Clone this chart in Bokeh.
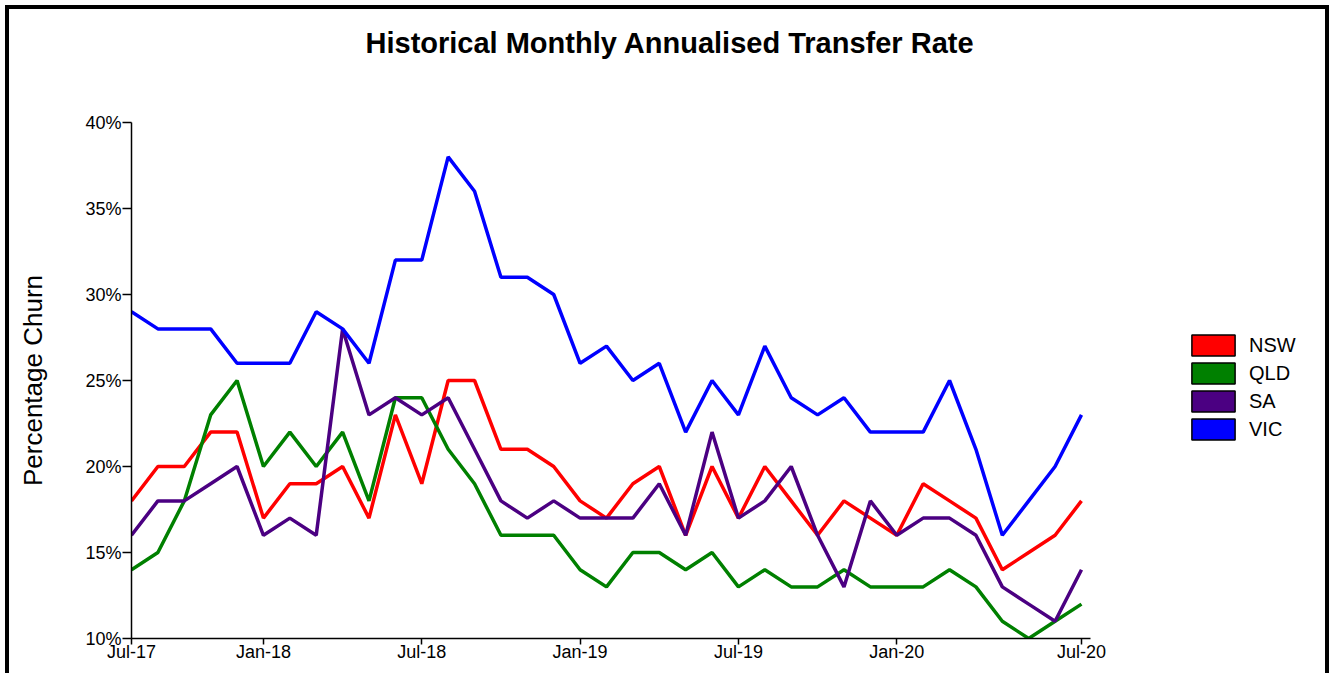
import numpy as np
from bokeh.plotting import figure
from bokeh.models import (Range1d, FixedTicker, PrintfTickFormatter, Legend, LegendItem, Title)
from bokeh.embed import file_html
from bokeh.resources import INLINE

months = ["Jul-17","Aug-17","Sep-17","Oct-17","Nov-17","Dec-17","Jan-18","Feb-18","Mar-18","Apr-18",
          "May-18","Jun-18","Jul-18","Aug-18","Sep-18","Oct-18","Nov-18","Dec-18","Jan-19","Feb-19",
          "Mar-19","Apr-19","May-19","Jun-19","Jul-19","Aug-19","Sep-19","Oct-19","Nov-19","Dec-19",
          "Jan-20","Feb-20","Mar-20","Apr-20","May-20","Jun-20","Jul-20"]
x_index = list(range(len(months)))

nsw = [18,20,20,22,22,17,19,19,20,17,23,19,25,25,21,21,20,18,17,19,20,16,20,17,20,18,16,18,17,16,19,18,17,14,15,16,18]
qld = [14,15,18,23,25,20,22,20,22,18,24,24,21,19,16,16,16,14,13,15,15,14,15,13,14,13,13,14,13,13,13,14,13,11,10,11,12]
sa  = [16,18,18,19,20,16,17,16,28,23,24,23,24,21,18,17,18,17,17,17,19,16,22,17,18,20,16,13,18,16,17,17,16,13,12,11,14]
vic = [29,28,28,28,26,26,26,29,28,26,32,32,38,36,31,31,30,26,27,25,26,22,25,23,27,24,23,24,22,22,22,25,21,16,18,20,23]

series_names = ["NSW", "QLD", "SA", "VIC"]
series_values = [nsw, qld, sa, vic]
series_colors = ["#ff0000", "#008000", "#4b0082", "#0000ff"]

tick_positions = [0, 5, 11, 17, 23, 29, 36]
tick_labels = ["Jul-17", "Jan-18", "Jul-18", "Jan-19", "Jul-19", "Jan-20", "Jul-20"]
y_ticks = [10, 15, 20, 25, 30, 35, 40]

FONT = "Liberation Sans"
X_AXIS_END = 36.34

p = figure(width=1324, height=668, output_backend="svg", toolbar_location=None,
           x_range=Range1d(0, 45.02), y_range=Range1d(10, 40),
           min_border_left=122, min_border_right=14, min_border_top=112, min_border_bottom=39)
p.styles = {"border-top": "4px solid black", "border-left": "4px solid black",
            "border-right": "4px solid black", "border-bottom": "none",
            "margin-left": "5px", "margin-top": "5px"}

p.title = Title(text="Historical Monthly Annualised Transfer Rate", align="left",
                text_font=FONT, text_font_size="29px", text_font_style="bold", text_color="black",
                offset=234, standoff=30)
spacer = Title(text=" ", text_font_size="1px", standoff=46)
p.add_layout(spacer, "above")

p.xgrid.visible = False
p.ygrid.visible = False
p.outline_line_color = None
p.background_fill_color = "white"
p.border_fill_color = "white"

p.xaxis.ticker = FixedTicker(ticks=tick_positions)
p.xaxis.major_label_overrides = {pos: lab for pos, lab in zip(tick_positions, tick_labels)}
p.xaxis.bounds = (0, X_AXIS_END)
p.yaxis.ticker = FixedTicker(ticks=y_ticks)
p.yaxis.formatter = PrintfTickFormatter(format="%d%%")

for ax in (p.xaxis, p.yaxis):
    ax.axis_line_color = "black"
    ax.axis_line_width = 1.5
    ax.major_tick_line_color = "black"
    ax.major_tick_line_width = 1.5
    ax.minor_tick_line_color = None
    ax.major_tick_in = 0
    ax.major_label_text_font = FONT
    ax.major_label_text_font_size = "18px"
    ax.major_label_text_color = "black"

p.xaxis.major_tick_out = 6
p.xaxis.major_label_standoff = -3
p.yaxis.major_tick_out = 9
p.yaxis.major_label_standoff = 1

p.yaxis.axis_label = "Percentage Churn"
p.yaxis.axis_label_text_font = FONT
p.yaxis.axis_label_text_font_size = "26px"
p.yaxis.axis_label_text_font_style = "normal"
p.yaxis.axis_label_text_color = "black"
p.yaxis.axis_label_standoff = 34

items = []
for name, vals, col in zip(series_names, series_values, series_colors):
    p.line(x=x_index, y=vals, line_color=col, line_width=3.5)
    # swatch renderer for the legend only (NaN geometry draws nothing in the plot)
    sw = p.quad(left=np.array([np.nan]), right=np.array([np.nan]),
                top=np.array([np.nan]), bottom=np.array([np.nan]),
                fill_color=col, line_color="black", line_width=1.5)
    items.append(LegendItem(label=name, renderers=[sw]))

legend = Legend(items=items, location=(1055, 196), orientation="vertical",
                glyph_width=54, glyph_height=26, label_height=23, spacing=2,
                label_standoff=9, padding=0, margin=0,
                label_text_font=FONT, label_text_font_size="20px", label_text_color="black",
                border_line_color=None, background_fill_alpha=0)
p.add_layout(legend)

open("out.html", "w").write(file_html(p, INLINE))
